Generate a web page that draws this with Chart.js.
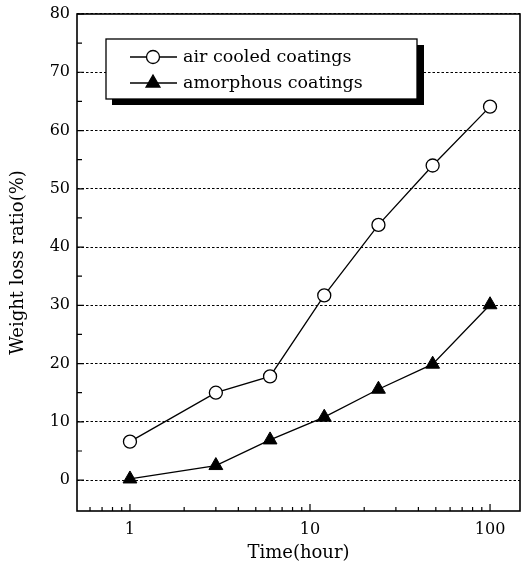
<!DOCTYPE html>
<html><head><meta charset="utf-8">
<script src="https://cdn.jsdelivr.net/npm/chart.js@4.4.0/dist/chart.umd.min.js"></script>
<style>html,body{margin:0;padding:0;background:#fff}#wrap{width:522px;height:567px;position:relative}</style>
</head><body><div id="wrap"><canvas id="c" width="522" height="567"></canvas></div>
<script>
const timeHours = [1, 3, 6, 12, 24, 48, 100];
const airCooled = [6.6, 15.0, 17.8, 31.7, 43.8, 54.0, 64.1];
const amorphous = [0.2, 2.5, 6.9, 10.8, 15.6, 19.9, 30.1];
const seriesNames = ['air cooled coatings', 'amorphous coatings'];
const yTicks = [0, 10, 20, 30, 40, 50, 60, 70, 80];
const xTicks = [1, 10, 100];
const yMinorTicks = [5, 15, 25, 35, 45, 55, 65, 75];
const xMinorTicks = [0.6, 0.7, 0.8, 0.9, 2, 3, 4, 5, 6, 7, 8, 9, 20, 30, 40, 50, 60, 70, 80, 90];

const FONT = "'DejaVu Serif', 'Liberation Serif', serif";

const toPts = (xs, ys) => xs.map((x, i) => ({x: x, y: ys[i]}));

const framePlugin = {
  id: 'frame',
  afterDraw(chart) {
    const {ctx, chartArea: a, scales: {x, y}} = chart;
    ctx.save();
    ctx.strokeStyle = '#000';
    ctx.lineWidth = 1.2;
    ctx.setLineDash([]);
    ctx.beginPath();
    yMinorTicks.forEach(v => { const py = y.getPixelForValue(v); ctx.moveTo(a.left, py); ctx.lineTo(a.left + 5, py); });
    yTicks.forEach(v => { const py = y.getPixelForValue(v); ctx.moveTo(a.left, py); ctx.lineTo(a.left + 7, py); });
    xMinorTicks.forEach(v => { const px = x.getPixelForValue(v); ctx.moveTo(px, a.bottom); ctx.lineTo(px, a.bottom - 4); });
    xTicks.forEach(v => { const px = x.getPixelForValue(v); ctx.moveTo(px, a.bottom); ctx.lineTo(px, a.bottom - 7); });
    ctx.stroke();
    ctx.lineWidth = 1.6;
    ctx.strokeRect(a.left, a.top, a.width, a.height);

    // legend box with shadow
    const bx = 106, by = 39, bw = 311, bh = 60, sh = 6;
    ctx.fillStyle = '#000';
    ctx.fillRect(bx + bw, by + sh, sh + 1, bh);
    ctx.fillRect(bx + sh, by + bh, bw + 1, sh);
    ctx.fillStyle = '#fff';
    ctx.fillRect(bx, by, bw, bh);
    ctx.lineWidth = 1.3;
    ctx.strokeRect(bx, by, bw, bh);
    const rows = [57, 83];
    chart.data.datasets.forEach((ds, i) => {
      const ry = rows[i];
      ctx.strokeStyle = '#000';
      ctx.lineWidth = 1.3;
      ctx.beginPath(); ctx.moveTo(130, ry); ctx.lineTo(177, ry); ctx.stroke();
      ctx.fillStyle = ds.pointBackgroundColor;
      ctx.strokeStyle = ds.pointBorderColor;
      Chart.helpers.drawPoint(ctx, {pointStyle: ds.pointStyle, radius: ds.pointRadius, rotation: 0, borderWidth: ds.pointBorderWidth}, 153, ry);
      ctx.fillStyle = '#000';
      ctx.font = "17.5px " + FONT;
      ctx.textBaseline = 'middle';
      ctx.textAlign = 'left';
      ctx.fillText(ds.label, 183, ry);
    });
    ctx.restore();
  }
};

new Chart(document.getElementById('c'), {
  type: 'line',
  data: {
    datasets: [
      {label: seriesNames[0], data: toPts(timeHours, airCooled), borderColor: '#000', borderWidth: 1.3,
       pointStyle: 'circle', pointRadius: 6.5, pointBackgroundColor: '#fff', pointBorderColor: '#000', pointBorderWidth: 1.3, tension: 0},
      {label: seriesNames[1], data: toPts(timeHours, amorphous), borderColor: '#000', borderWidth: 1.3,
       pointStyle: 'triangle', pointRadius: 8, pointBackgroundColor: '#000', pointBorderColor: '#000', pointBorderWidth: 1, tension: 0}
    ]
  },
  options: {
    responsive: false,
    animation: false,
    devicePixelRatio: 1,
    layout: {autoPadding: false, padding: {top: 14, right: 2, left: 0, bottom: 0}},
    plugins: {legend: {display: false}, tooltip: {enabled: false}},
    scales: {
      x: {
        type: 'logarithmic', min: 0.508, max: 146.7,
        afterBuildTicks: s => { s.ticks = xTicks.map(v => ({value: v})); },
        afterFit: s => { s.height = 56; s.paddingLeft = 0; s.paddingRight = 0; },
        grid: {display: false, drawTicks: false},
        border: {display: false},
        ticks: {color: '#000', font: {family: FONT, size: 16}, padding: 9, maxRotation: 0, autoSkip: false, callback: v => String(v)},
        title: {display: true, text: 'Time(hour)', color: '#000', font: {family: FONT, size: 18}, padding: {top: 0, bottom: 3}}
      },
      y: {
        type: 'linear', min: -5.3, max: 80,
        afterBuildTicks: s => { s.ticks = yTicks.map(v => ({value: v})); },
        afterFit: s => { s.width = 77; s.paddingTop = 0; s.paddingBottom = 0; },
        grid: {color: '#000', lineWidth: 1.1, drawTicks: false},
        border: {display: false, dash: [2.5, 2]},
        ticks: {color: '#000', font: {family: FONT, size: 16}, padding: 7, callback: v => String(v)},
        title: {display: true, text: 'Weight loss ratio(%)', color: '#000', font: {family: FONT, size: 18}, padding: {top: 8, bottom: 0}}
      }
    }
  },
  plugins: [framePlugin]
});
</script>
</body></html>
